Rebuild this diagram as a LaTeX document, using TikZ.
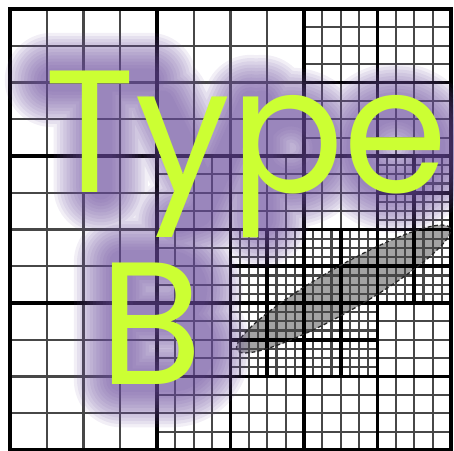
\documentclass[tikz,border=0pt]{standalone}
\usepackage{fontspec}
\newfontfamily\typefont[FakeStretch=0.965]{Poppins}
\usetikzlibrary{positioning}
\definecolor{limetext}{HTML}{CCFF33}
\definecolor{glowpurple}{HTML}{6A4C9C}
\tikzset{
  cellline/.style={line width=1.7pt, color=black!72},
  blockline/.style={line width=2.8pt, color=black},
  glow/.style={draw=glowpurple, draw opacity=0.09, line cap=round, line join=round},
  blob/.style={fill=black!36, draw=none},
  blobedge/.style={draw=black!85, line width=1pt, densely dashed},
  bigtype/.style={font=\typefont\fontsize{135}{135}\selectfont, text=limetext,
    inner sep=0pt, anchor=base west},
}
% mesh blocks: lower left x / lower left y / size, each one 4x4 cells
\def\meshblocks{0/8/4, 4/8/4, 0/4/4, 0/0/4,
  8/8/2, 10/8/2, 8/10/2, 10/10/2,
  4/6/2, 6/6/2, 4/4/2, 6/4/1, 7/4/1, 6/5/1, 7/5/1,
  8/6/2, 10/6/1, 11/6/1, 10/7/1, 11/7/1,
  8/4/1, 9/4/1, 8/5/1, 9/5/1, 10/4/1, 11/4/1, 10/5/1, 11/5/1,
  4/2/2, 6/2/1, 7/2/1, 6/3/1, 7/3/1, 4/0/2, 6/0/2,
  8/2/1, 9/2/1, 8/3/1, 9/3/1, 10/2/2, 8/0/2, 10/0/2}

\begin{document}
\begin{tikzpicture}[x=1cm,y=1cm]
  \useasboundingbox (-0.272,-0.027) rectangle (12.082,12.245);
  % the feature under the mesh
  \fill[blob, rotate around={29.8:(9.075,4.381)}] (9.075,4.381) ellipse (3.34 and 0.6);
  % cells, then block borders
  \foreach \bx/\by/\s in \meshblocks {
    \foreach \k in {1,2,3} {
      \draw[cellline] ({\bx+\k*\s/4},\by) -- ++(0,\s);
      \draw[cellline] (\bx,{\by+\k*\s/4}) -- ++(\s,0);
    }
  }
  \foreach \bx/\by/\s in \meshblocks
    \draw[blockline] (\bx,\by) rectangle ++(\s,\s);
  \draw[blobedge, rotate around={29.8:(9.075,4.381)}] (9.075,4.381) ellipse (3.34 and 0.6);
  % glow behind the letters
  \foreach \w in {18,23,...,73} {
    \draw[glow, line width=\w pt]
      (1.14,10.07) -- (3.8,10.07) (2.47,10.07) -- (2.47,7.13)
      (4.14,9.47) -- (5.35,7.02) (6.55,9.47) -- (5.15,6.39) -- (4.6,6.2)
      (6.85,9.47) -- (6.85,6.26) (7.65,8.22) circle (0.9)
      (10.5,8.22) circle (1.03)
      (3.02,5.12) -- (3.02,1.9)
      (3.02,5.12) -- (4.3,5.12) arc[start angle=90, end angle=-90, radius=0.75] -- (3.02,3.62)
      (3.02,3.62) -- (4.4,3.62) arc[start angle=90, end angle=-90, radius=0.86] -- (3.02,1.9);
  }
  \node[bigtype] (typeword) at (0.93,7.0) {Type};
  \node[bigtype] (bword) at (2.42,1.77) {B};
\end{tikzpicture}
\end{document}
